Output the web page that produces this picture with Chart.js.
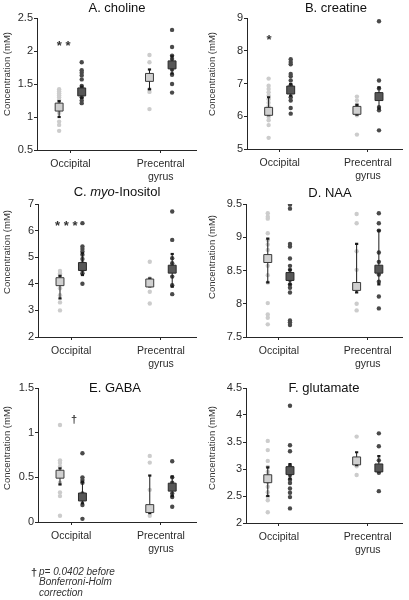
<!DOCTYPE html>
<html><head><meta charset="utf-8">
<script src="https://cdn.jsdelivr.net/npm/chart.js@4.4.1/dist/chart.umd.min.js"></script>
<style>
html,body{margin:0;padding:0;background:#fff;width:409px;height:600px;overflow:hidden;position:relative;font-family:"Liberation Sans",Arial,sans-serif}
canvas{position:absolute}
#note{position:absolute;left:39px;top:567px;font:italic 10px/10.4px "Liberation Sans",Arial,sans-serif;color:#333;white-space:nowrap}
#note b{position:absolute;left:-8px;top:0;font-style:normal;font-weight:bold;font-size:11px}
</style></head><body>
<canvas id="cA"></canvas><canvas id="cB"></canvas><canvas id="cC"></canvas>
<canvas id="cD"></canvas><canvas id="cE"></canvas><canvas id="cF"></canvas>
<div id="note"><b>†</b>p= 0.0402 before<br>Bonferroni-Holm<br>correction</div>
<script>
// ---- categories / groups ----
const regions = ["Occipital", ["Precentral", "gyrus"]];
const regionPos = [1, 2];
const groupOffset = [-0.125, 0.125]; // light group, dark group
const yAxisTitle = "Concentration (mM)";

// ---- A. choline ----
const cholineOccLight = [1.42,1.39,1.36,1.33,1.30,1.26,1.21,1.12,1.06,0.93,0.88,0.79];
const cholineOccDark  = [1.83,1.71,1.67,1.63,1.57,1.47,1.43,1.39,1.35,1.30,1.25,1.21];
const cholinePreLight = [1.94,1.83,1.42,1.38,1.12];
const cholinePreDark  = [2.32,2.06,1.93,1.88,1.80,1.72,1.64,1.50,1.37];
const cholineMean = [1.15,1.38,1.60,1.79];
const cholineLow  = [1.00,1.29,1.42,1.66];
const cholineHigh = [1.24,1.46,1.72,1.92];

// ---- B. creatine ----
const creatineOccLight = [7.15,6.93,6.83,6.73,6.63,6.52,6.41,6.30,6.20,5.98,5.88,5.73,5.34];
const creatineOccDark  = [7.74,7.66,7.59,7.29,7.22,7.09,6.95,6.85,6.75,6.58,6.48,6.25,6.08];
const creatinePreLight = [6.60,6.48,6.35,6.20,6.03,5.44];
const creatinePreDark  = [8.90,7.09,6.85,6.68,6.58,6.28,6.18,5.57];
const creatineMean = [6.15,6.80,6.18,6.60];
const creatineLow  = [6.03,6.63,6.05,6.23];
const creatineHigh = [6.58,6.98,6.35,6.88];

// ---- C. myo-Inositol ----
const myoOccLight = [4.48,4.40,4.33,4.17,4.02,3.83,3.57,3.30,3.00];
const myoOccDark  = [6.28,5.40,5.31,5.21,5.09,4.93,4.77,4.65,4.52,4.40,4.00];
const myoPreLight = [4.83,4.20,4.00,3.70,3.26];
const myoPreDark  = [6.72,5.65,4.96,4.77,4.65,4.27,3.95,3.61];
const myoMean = [4.08,4.65,4.03,4.55];
const myoLow  = [3.45,4.33,3.90,3.89];
const myoHigh = [4.30,5.15,4.20,5.12];

// ---- D. NAA ----
const naaOccLight = [9.36,9.31,9.28,9.06,8.96,8.89,8.81,8.71,8.57,8.43,8.32,8.01,7.84,7.79,7.69];
const naaOccDark  = [9.49,9.43,8.90,8.86,8.68,8.57,8.51,8.43,8.36,8.29,8.24,8.17,7.75,7.72,7.68];
const naaPreLight = [9.35,9.21,8.79,8.51,8.00,7.90];
const naaPreDark  = [9.36,9.21,9.10,8.77,8.63,8.52,8.44,8.33,8.11,7.93];
const naaMean = [8.68,8.41,8.26,8.52];
const naaLow  = [8.32,8.29,8.17,8.29];
const naaHigh = [8.98,8.51,8.90,9.10];

// ---- E. GABA ----
const gabaOccLight = [1.085,0.69,0.66,0.62,0.55,0.44,0.33,0.29,0.07];
const gabaOccDark  = [0.77,0.50,0.47,0.44,0.32,0.29,0.25,0.19,0.035];
const gabaPreLight = [0.74,0.665,0.36,0.07];
const gabaPreDark  = [0.68,0.50,0.44,0.38,0.32,0.28,0.17];
const gabaMean = [0.535,0.28,0.15,0.39];
const gabaLow  = [0.42,0.21,0.10,0.29];
const gabaHigh = [0.60,0.45,0.52,0.51];

// ---- F. glutamate ----
const gluOccLight = [3.52,3.35,3.15,3.04,2.95,2.89,2.76,2.67,2.57,2.49,2.42,2.20];
const gluOccDark  = [4.17,3.44,3.33,3.05,2.98,2.89,2.80,2.74,2.64,2.56,2.48,2.27];
const gluPreLight = [3.60,3.05,2.89];
const gluPreDark  = [3.66,3.42,3.16,2.93,2.59];
const gluMean = [2.82,2.97,3.15,3.02];
const gluLow  = [2.50,2.82,3.07,2.95];
const gluHigh = [3.03,3.09,3.31,3.24];

// ---- significance marks (text, x in category units, y in data units) ----
const marksA = [{text:"* *", x:0.925, y:2.126}];
const marksB = [{text:"*", x:0.88, y:8.44}];
const marksC = [{text:"* * *", x:0.945, y:6.31}];
const marksE = [{text:"†", x:1.033, y:1.149}];

const FONT = '"Liberation Sans", Arial, sans-serif';
const LIGHT = '#cccccc', DARK = '#4a4a4a', AX = '#262626';

const textPlugin = {
  id: 'panelText',
  afterDatasetsDraw(chart) {
    const p = chart.options.plugins.panelText;
    const ctx = chart.ctx;
    ctx.save();
    const xs = chart.scales.x, ys = chart.scales.y;
    p.marks.forEach(m => {
      const px = xs.getPixelForValue(m.x), py = ys.getPixelForValue(m.y);
      ctx.fillStyle = '#333';
      ctx.textAlign = 'center';
      ctx.textBaseline = 'alphabetic';
      if (m.text.indexOf('*') >= 0) {
        ctx.font = 'bold 13px ' + FONT;
        ctx.fillText(m.text, px, py + 13 * 0.58);
      } else {
        ctx.font = 'bold 11px ' + FONT;
        ctx.fillText(m.text, px, py + 11 * 0.3);
      }
    });
    let total = 0;
    p.title.forEach(pt => { ctx.font = (pt.i ? 'italic ' : '') + '13px ' + FONT; pt.w = ctx.measureText(pt.t).width; total += pt.w; });
    let x = p.titleX - p.ox - total / 2;
    ctx.fillStyle = '#111';
    ctx.textAlign = 'left';
    ctx.textBaseline = 'middle';
    p.title.forEach(pt => { ctx.font = (pt.i ? 'italic ' : '') + '13px ' + FONT; ctx.fillText(pt.t, x, p.titleY - p.oy); x += pt.w; });
    ctx.translate(p.ylabX - p.ox, p.ylabY - p.oy);
    ctx.rotate(-Math.PI / 2);
    ctx.textAlign = 'center';
    ctx.textBaseline = 'middle';
    ctx.font = '9.5px ' + FONT;
    ctx.fillStyle = '#333';
    ctx.fillText(yAxisTitle, 0, 0);
    ctx.restore();
  }
};

function column(values, r, g) {
  return values.map(v => ({x: regionPos[r] + groupOffset[g], y: v}));
}

function makePanel(id, cfg) {
  const cv = document.getElementById(id);
  cv.width = cfg.canvas[2]; cv.height = cfg.canvas[3];
  cv.style.left = cfg.canvas[0] + 'px'; cv.style.top = cfg.canvas[1] + 'px';
  cv.style.width = cfg.canvas[2] + 'px'; cv.style.height = cfg.canvas[3] + 'px';
  const [cl, ct, cw, ch] = cfg.canvas;
  const [pl, pt, pr, pb] = cfg.plot;
  const groups = [[cfg.occL,0,0],[cfg.occD,0,1],[cfg.preL,1,0],[cfg.preD,1,1]];
  const datasets = [];
  groups.forEach(([vals, r, g]) => {
    datasets.push({
      type: 'scatter', data: column(vals, r, g), order: 3,
      pointRadius: 2.2, pointBorderWidth: 0,
      pointBackgroundColor: g === 0 ? LIGHT : DARK, pointBorderColor: g === 0 ? LIGHT : DARK
    });
  });
  groups.forEach(([vals, r, g], i) => {
    datasets.push({
      type: 'scatter', showLine: true, order: 2,
      data: [{x: regionPos[r] + groupOffset[g], y: cfg.low[i]}, {x: regionPos[r] + groupOffset[g], y: cfg.high[i]}],
      borderColor: '#1a1a1a', borderWidth: 1,
      pointStyle: 'line', pointRadius: 1.6, pointBorderWidth: 2.2,
      pointBorderColor: '#1a1a1a', pointBackgroundColor: '#1a1a1a'
    });
  });
  groups.forEach(([vals, r, g], i) => {
    datasets.push({
      type: 'scatter', order: 1,
      data: [{x: regionPos[r] + groupOffset[g], y: cfg.mean[i]}],
      pointStyle: 'rect', pointRadius: 5.6, pointBorderWidth: 1,
      pointBackgroundColor: g === 0 ? '#d0d0d0' : '#575757',
      pointBorderColor: g === 0 ? '#3a3a3a' : '#2a2a2a'
    });
  });
  new Chart(cv, {
    type: 'scatter',
    data: {datasets},
    plugins: [textPlugin],
    options: {
      responsive: false, animation: false, devicePixelRatio: 1, events: [],
      layout: {padding: {left: 0, top: pt - ct, right: cl + cw - pr, bottom: 0}},
      plugins: {
        legend: {display: false}, tooltip: {enabled: false},
        panelText: {ox: cl, oy: ct, title: cfg.title, titleX: cfg.titleXY[0], titleY: cfg.titleXY[1],
                    ylabX: cfg.ylabXY[0], ylabY: cfg.ylabXY[1], marks: cfg.marks}
      },
      scales: {
        x: {
          type: 'linear', min: 0.63, max: 2.39,
          afterBuildTicks: s => { s.ticks = regionPos.map(v => ({value: v})); },
          afterFit: s => { s.height = ct + ch - pb; },
          grid: {drawOnChartArea: false, drawTicks: true, tickLength: 3, color: AX},
          border: {display: true, color: AX, width: 1},
          ticks: {autoSkip: false, maxRotation: 0, padding: 4, color: '#2b2b2b',
                  font: {family: FONT, size: 10.5, lineHeight: 1.27},
                  callback: (v, i) => regions[i]}
        },
        y: {
          type: 'linear', min: cfg.yMin, max: cfg.yMax,
          afterFit: s => { s.width = pl - cl; },
          grid: {drawOnChartArea: false, drawTicks: true, tickLength: 3, color: AX},
          border: {display: true, color: AX, width: 1},
          ticks: {stepSize: cfg.yStep, padding: 1, color: '#2b2b2b', font: {family: FONT, size: 11},
                  callback: v => String(Math.round(v * 100) / 100)}
        }
      }
    }
  });
}

makePanel('cA', {canvas:[0,0,204,195], plot:[37,18,196,150], yMin:0.5, yMax:2.5, yStep:0.5,
  title:[{t:'A. choline'}], titleXY:[117,8.5], ylabXY:[7.5,74], marks: marksA,
  occL:cholineOccLight, occD:cholineOccDark, preL:cholinePreLight, preD:cholinePreDark,
  mean:cholineMean, low:cholineLow, high:cholineHigh});
makePanel('cB', {canvas:[204,0,205,195], plot:[247,18,408,149], yMin:5, yMax:9, yStep:1,
  title:[{t:'B. creatine'}], titleXY:[336,8.5], ylabXY:[212,74], marks: marksB,
  occL:creatineOccLight, occD:creatineOccDark, preL:creatinePreLight, preD:creatinePreDark,
  mean:creatineMean, low:creatineLow, high:creatineHigh});
makePanel('cC', {canvas:[0,182,204,195], plot:[38,204,196,337], yMin:2, yMax:7, yStep:1,
  title:[{t:'C. '},{t:'myo',i:true},{t:'-Inositol'}], titleXY:[117,192], ylabXY:[7.5,252], marks: marksC,
  occL:myoOccLight, occD:myoOccDark, preL:myoPreLight, preD:myoPreDark,
  mean:myoMean, low:myoLow, high:myoHigh});
makePanel('cD', {canvas:[204,182,205,195], plot:[246,204,408,337], yMin:7.5, yMax:9.5, yStep:0.5,
  title:[{t:'D. NAA'}], titleXY:[330,193], ylabXY:[212,257], marks: [],
  occL:naaOccLight, occD:naaOccDark, preL:naaPreLight, preD:naaPreDark,
  mean:naaMean, low:naaLow, high:naaHigh});
makePanel('cE', {canvas:[0,378,204,190], plot:[38,388,196,522], yMin:0, yMax:1.5, yStep:0.5,
  title:[{t:'E. GABA'}], titleXY:[115,388.5], ylabXY:[7.5,448], marks: marksE,
  occL:gabaOccLight, occD:gabaOccDark, preL:gabaPreLight, preD:gabaPreDark,
  mean:gabaMean, low:gabaLow, high:gabaHigh});
makePanel('cF', {canvas:[204,378,205,190], plot:[246,388,408,523], yMin:2, yMax:4.5, yStep:0.5,
  title:[{t:'F. glutamate'}], titleXY:[324,388], ylabXY:[212,448], marks: [],
  occL:gluOccLight, occD:gluOccDark, preL:gluPreLight, preD:gluPreDark,
  mean:gluMean, low:gluLow, high:gluHigh});
</script>
</body></html>
